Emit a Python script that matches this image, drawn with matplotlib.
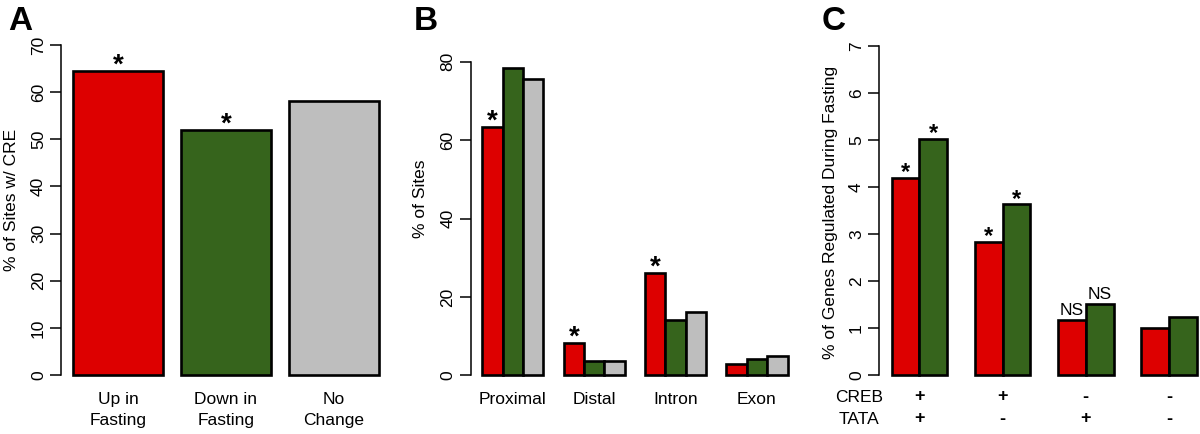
import matplotlib.pyplot as plt
import matplotlib.transforms as mtransforms

plt.rcParams['font.family'] = ['Liberation Sans', 'DejaVu Sans']

# ---- data ----
a_labels = ['Up in\nFasting', 'Down in\nFasting', 'No\nChange']
a_values = [64.4, 51.9, 58.1]
a_sig = ['*', '*', '']

b_groups = ['Proximal', 'Distal', 'Intron', 'Exon']
b_up = [63.3, 8.2, 26.0, 2.8]
b_down = [78.3, 3.7, 14.1, 4.1]
b_none = [75.6, 3.6, 16.1, 4.8]
b_sig_up = ['*', '*', '*', '']

c_up = [4.20, 2.84, 1.17, 1.00]
c_down = [5.02, 3.63, 1.51, 1.24]
c_sig_up = ['*', '*', 'NS', '']
c_sig_down = ['*', '*', 'NS', '']
c_creb = ['+', '+', '-', '-']
c_tata = ['+', '-', '+', '-']

RED = '#DD0000'
GREEN = '#36641C'
GRAY = '#BEBEBE'
FS = 12.5

W, H = 1200, 434
fig = plt.figure(figsize=(W / 100, H / 100), dpi=100)


def place_axes(xref, yref, xlim, ylim):
    # put axes so that reference data values land on given pixel positions
    (xd0, xp0), (xd1, xp1) = xref
    (yd0, yp0), (yd1, yp1) = yref
    sx = (xp1 - xp0) / (xd1 - xd0)
    sy = (yp1 - yp0) / (yd1 - yd0)
    left = xp0 + (xlim[0] - xd0) * sx
    right = xp0 + (xlim[1] - xd0) * sx
    top = yp0 + (ylim[1] - yd0) * sy
    bottom = yp0 + (ylim[0] - yd0) * sy
    ax = fig.add_axes([left / W, 1 - bottom / H, (right - left) / W, (bottom - top) / H])
    ax.set_xlim(xlim)
    ax.set_ylim(ylim)
    return ax


def style(ax, top_tick, ticks):
    for s in ['top', 'right', 'bottom']:
        ax.spines[s].set_visible(False)
    ax.spines['left'].set_bounds(0, top_tick)
    ax.spines['left'].set_linewidth(1.1)
    ax.set_yticks(ticks)
    ax.tick_params(axis='y', direction='out', length=8, width=1.1, pad=3,
                   labelsize=FS, labelrotation=90)
    for t in ax.get_yticklabels():
        t.set_va('center')
    ax.tick_params(axis='x', length=0, labelsize=FS)


def star(ax, x, y, s, size=20):
    if s == '*':
        ax.annotate('*', (x, y), xytext=(0, -1), textcoords='offset points',
                    ha='center', va='baseline', fontsize=size, fontweight='bold')
    elif s:
        ax.annotate(s, (x, y), xytext=(0, 4), textcoords='offset points',
                    ha='center', va='baseline', fontsize=FS)


edge = dict(edgecolor='black', linewidth=1.9)

# ---- panel A ----
axA = place_axes(((0.2, 73), (3.6, 379)), ((0, 375), (70, 45)), (0.07, 3.74), (-2.8, 72.8))
a_left = [0.2 + 1.2 * i for i in range(len(a_values))]
a_ctr = [l + 0.5 for l in a_left]
axA.bar(a_ctr, a_values, width=1, color=[RED, GREEN, GRAY], **edge)
for x, v, s in zip(a_ctr, a_values, a_sig):
    star(axA, x, v, s)
style(axA, 70, range(0, 71, 10))
axA.set_xticks(a_ctr)
axA.set_xticklabels(a_labels, linespacing=1.45)
axA.tick_params(axis='x', pad=3)
axA.set_ylabel('% of Sites w/ CRE', fontsize=FS)
axA.yaxis.set_label_coords(19 / W, 1 - 200 / H, transform=fig.transFigure)

# ---- panel B ----
axB = place_axes(((1, 482.3), (16, 787.5)), ((0, 375.3), (80, 61.7)), (0.43, 16.2), (-3.2, 81.5))
b_ctr = []
for g in range(len(b_groups)):
    base = 1 + 4 * g
    for j, (vals, col) in enumerate([(b_up, RED), (b_down, GREEN), (b_none, GRAY)]):
        axB.bar(base + j + 0.5, vals[g], width=1, color=col, **edge)
    star(axB, base + 0.5, b_up[g], b_sig_up[g])
    b_ctr.append(base + 1.5)
style(axB, 80, range(0, 81, 20))
axB.set_xticks(b_ctr)
axB.set_xticklabels(b_groups)
axB.tick_params(axis='x', pad=3)
axB.set_ylabel('% of Sites', fontsize=FS)
axB.yaxis.set_label_coords(428 / W, 1 - 199 / H, transform=fig.transFigure)

# ---- panel C ----
axC = place_axes(((1, 891.7), (12, 1196.7)), ((0, 375.3), (7, 45.7)), (0.55, 12.1), (-0.28, 7.28))
c_ctr = []
for g in range(len(c_up)):
    base = 1 + 3 * g
    axC.bar(base + 0.5, c_up[g], width=1, color=RED, **edge)
    axC.bar(base + 1.5, c_down[g], width=1, color=GREEN, **edge)
    star(axC, base + 0.5, c_up[g], c_sig_up[g], size=17)
    star(axC, base + 1.5, c_down[g], c_sig_down[g], size=17)
    c_ctr.append(base + 1)
style(axC, 7, range(0, 8))
axC.set_xticks([])
axC.set_ylabel('% of Genes Regulated During Fasting', fontsize=FS)
axC.yaxis.set_label_coords(838 / W, 1 - 212 / H, transform=fig.transFigure)

trans = mtransforms.blended_transform_factory(axC.transData, fig.transFigure)
for row_y, name, marks in [(397, 'CREB', c_creb), (419, 'TATA', c_tata)]:
    fig.text(859 / W, 1 - row_y / H, name, ha='center', va='center', fontsize=FS)
    for x, m in zip(c_ctr, marks):
        axC.text(x, 1 - row_y / H, m, transform=trans, ha='center', va='center',
                 fontsize=13, fontweight='bold', clip_on=False)

# ---- panel letters ----
for px, letter in [(20, 'A'), (426, 'B'), (834, 'C')]:
    fig.text(px / W, 1 - 22 / H, letter, ha='center', va='center',
             fontsize=24, fontweight='bold')

fig.savefig('out.png', dpi=100)
